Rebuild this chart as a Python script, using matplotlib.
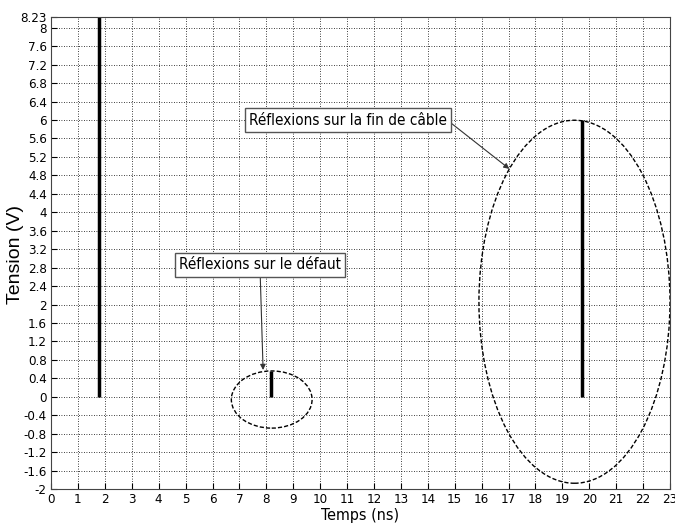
import matplotlib
matplotlib.use("Agg")
import matplotlib.pyplot as plt
from matplotlib.patches import Ellipse
from matplotlib import font_manager as fm
import os

fam = None
cands = fm.findSystemFonts()
for key in ["LiberationSansNarrow-Regular", "DejaVuSansCondensed.ttf", "DejaVuSansCondensed"]:
    for f in cands:
        if key in os.path.basename(f):
            try:
                fm.fontManager.addfont(f)
                fam = fm.FontProperties(fname=f).get_name()
            except Exception:
                fam = None
            break
    if fam:
        break
if fam is None:
    fam = "Liberation Sans"
plt.rcParams['font.family'] = [fam, 'DejaVu Sans']
if "DejaVu" in fam:
    plt.rcParams['font.stretch'] = 'condensed'

# data
pulse_x = [1.78, 8.18, 19.74]
pulse_top = [8.23, 0.55, 6.0]
x_ticks = list(range(0, 24))
y_ticks = [round(-2 + 0.4 * i, 1) for i in range(26)] + [8.23]
ellipse_centers = [(8.2, -0.06), (19.45, 2.06)]
ellipse_sizes = [(3.0, 1.24), (7.1, 7.87)]
annot_texts = ["Réflexions sur le défaut", "Réflexions sur la fin de câble"]
annot_text_pos = [(7.77, 2.86), (11.04, 6.0)]
annot_tips = [(7.88, 0.58), (17.03, 4.94)]

fig = plt.figure(figsize=(6.75, 5.29), dpi=100)
ax = fig.add_axes([0.0756, 0.0756, 0.917, 0.892])

for x, t in zip(pulse_x, pulse_top):
    ax.plot([x, x], [0, t], color='black', lw=2.5, solid_capstyle='butt')

for (cx, cy), (w, h) in zip(ellipse_centers, ellipse_sizes):
    ax.add_patch(Ellipse((cx, cy), w, h, fill=False, ls=(0, (3, 1.5)), lw=1.0, ec='black'))

for txt, (tx, ty), (px, py), rel in zip(annot_texts, annot_text_pos, annot_tips, [(0.5, 0), (1, 0.5)]):
    ax.annotate(txt, xy=(px, py), xytext=(tx, ty), fontsize=11, ha='center', va='center',
                bbox=dict(boxstyle='square,pad=0.28', fc='white', ec='#555555', lw=1),
                arrowprops=dict(arrowstyle='-|>', color='#333333', lw=0.8, shrinkA=0, shrinkB=0,
                                relpos=rel, mutation_scale=8))

ax.set_xlim(0, 23)
ax.set_ylim(-2, 8.23)
ax.set_xticks(x_ticks)
ax.set_xticklabels([str(v) for v in x_ticks])
ax.set_yticks(y_ticks)
ax.set_yticklabels([("%g" % v) for v in y_ticks])
ax.tick_params(direction='in', length=4, labelsize=9.5, pad=3)
ax.grid(True, color='black', ls=(0, (1, 2)), lw=0.6)
for s in ax.spines.values():
    s.set_color('#444444')
ax.set_xlabel("Temps (ns)", fontsize=11.5, labelpad=1)
ax.set_ylabel("Tension (V)", fontsize=14, family=['Liberation Sans', 'DejaVu Sans'], fontstretch='normal')
ax.yaxis.set_label_coords(-0.043, 0.496)

fig.savefig("out.png", dpi=100)
